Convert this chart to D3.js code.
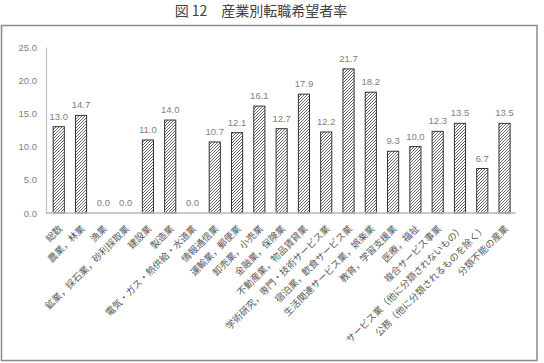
<!DOCTYPE html>
<html><head><meta charset="utf-8">
<script src="https://cdn.jsdelivr.net/npm/d3@7"></script>
<style>body{margin:0;background:#fff}svg{display:block}</style>
</head><body>
<svg id="c" width="544" height="363"></svg>
<script>
const title = "図 12　産業別転職希望者率";
const categories = ["総数","農業，林業","漁業","鉱業，採石業，砂利採取業","建設業","製造業","電気・ガス・熱供給・水道業","情報通信業","運輸業，郵便業","卸売業，小売業","金融業，保険業","不動産業，物品賃貸業","学術研究，専門・技術サービス業","宿泊業，飲食サービス業","生活関連サービス業，娯楽業","教育，学習支援業","医療，福祉","複合サービス事業","サービス業（他に分類されないもの）","公務（他に分類されるものを除く）","分類不能の産業"];
const values = [13.0,14.7,0.0,0.0,11.0,14.0,0.0,10.7,12.1,16.1,12.7,17.9,12.2,21.7,18.2,9.3,10.0,12.3,13.5,6.7,13.5];
const yTicks = [0,5,10,15,20,25];

const svg = d3.select("#c");
const defs = svg.append("defs");
const pat = defs.append("pattern").attr("id","hatch").attr("patternUnits","userSpaceOnUse")
  .attr("width",3).attr("height",3);
pat.append("rect").attr("width",3).attr("height",3).attr("fill","#fff");
pat.append("path").attr("d","M-1,1 L1,-1 M0,3 L3,0 M2,4 L4,2").attr("stroke","#555").attr("stroke-width",0.9);

// frame
svg.append("rect").attr("x",1.5).attr("y",25.5).attr("width",535.5).attr("height",335)
  .attr("fill","none").attr("stroke","#8a8a8a").attr("stroke-width",1.5);

svg.append("text").attr("x",261).attr("y",15.5).attr("text-anchor","middle")
  .attr("font-family","'Noto Sans CJK JP'").attr("font-size",14).attr("fill","#404040").text(title);

const x = d3.scaleBand().domain(categories).range([47.6,515.7]).paddingInner(0.5).paddingOuter(0.25);
const y = d3.scaleLinear().domain([0,25]).range([213,47]);

// y axis
const yAxis = svg.append("g").attr("transform","translate(46,0)")
  .call(d3.axisLeft(y).tickValues(yTicks).tickFormat(d3.format(".1f")).tickSize(0).tickPadding(9));
yAxis.select(".domain").attr("stroke","#c0c0c0").attr("stroke-width",1.2);
yAxis.selectAll("text").attr("font-family","'Liberation Sans'").attr("font-size",9.5).attr("fill","#808080");

// bars
svg.append("g").selectAll("rect").data(values).join("rect")
  .attr("x",(d,i)=>x(categories[i])).attr("width",x.bandwidth())
  .attr("y",d=>y(d)).attr("height",d=>y(0)-y(d))
  .attr("fill","url(#hatch)").attr("stroke","#333").attr("stroke-width",1);

// x axis baseline
const xAxis = svg.append("g").attr("transform",`translate(0,${y(0)})`)
  .call(d3.axisBottom(x).tickSize(0).tickSizeOuter(0).tickFormat(""));
xAxis.select(".domain").attr("stroke","#b8b8b8").attr("stroke-width",1.5).attr("d","M46,0H515.7");

// value labels
svg.append("g").selectAll("text").data(values).join("text")
  .attr("x",(d,i)=>x(categories[i])+x.bandwidth()/2).attr("y",d=>y(d)-7)
  .attr("text-anchor","middle").attr("font-family","'Liberation Sans'").attr("font-size",9.5)
  .attr("fill","#808080").text(d=>d3.format(".1f")(d));

// category labels
svg.append("g").selectAll("text").data(categories).join("text")
  .attr("transform",d=>`translate(${x(d)+x.bandwidth()/2+2},${y(0)+14}) rotate(-45)`)
  .attr("text-anchor","end").attr("dy","0.35em")
  .attr("font-family","'Noto Sans CJK JP'").attr("font-size",9.5).attr("fill","#5a5a5a")
  .text(d=>d);
</script>
</body></html>
